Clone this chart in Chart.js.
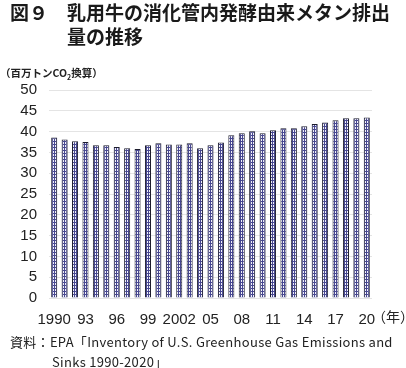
<!DOCTYPE html>
<html>
<head>
  <meta charset="utf-8">
  <title>乳用牛の消化管内発酵由来メタン排出量の推移</title>
  <script src="https://cdn.jsdelivr.net/npm/chart.js"></script>
  <style>
    body {
        margin: 0;
        background: #fff;
        font-family: "Noto Sans CJK JP", sans-serif;
        color: #222;
    }
    .wrap {
        position: relative;
        width: 406px;
        height: 368px;
        overflow: hidden;
    }
    #chart {
        position: absolute;
        left: 0;
        top: 0;
    }
    .txt {
        position: absolute;
        white-space: nowrap;
    }
    .title {
        font-size: 19px;
        font-weight: bold;
        line-height: 24px;
        color: #1a1a1a;
    }
    .unit {
        left: 0;
        top: 65px;
        font-size: 10.5px;
        font-weight: bold;
    }
    .src {
        font-size: 13px;
        line-height: 20px;
        letter-spacing: 0.3px;
    }
  </style>
</head>
<body>
  <div class="wrap">
    <canvas id="chart" width="406" height="368"></canvas>
    <div class="txt title" style="left:10px; top:0px;">図９</div>
    <div class="txt title" style="left:67px; top:0px;">乳用牛の消化管内発酵由来メタン排出<br>量の推移</div>
    <div class="txt unit">（百万トンCO<sub style="font-size:7px">2</sub>換算）</div>
    <div class="txt" style="left:372px; top:306px; font-size:14px;">（年）</div>
    <div class="txt src" style="left:10px; top:332px;">資料：EPA「Inventory of U.S. Greenhouse Gas Emissions and</div>
    <div class="txt src" style="left:52px; top:352px;">Sinks 1990-2020」</div>
  </div>

  <script>
    // データ（単位：百万トンCO2換算）
    const years = [];
    for (let y = 1990; y <= 2020; y++) years.push(String(y));
    const emissions = [
      38.6, 38.1, 37.7, 37.5, 36.7, 36.7, 36.3, 36.0, 35.8, 36.7,
      37.2, 36.9, 36.9, 37.2, 36.0, 36.7, 37.4, 39.1, 39.6, 40.1,
      39.6, 40.3, 40.8, 40.8, 41.3, 41.8, 42.2, 42.7, 43.2, 43.2,
      43.4
    ];
    const xTickLabels = ['1990', '93', '96', '99', '2002', '05', '08', '11', '14', '17', '20'];
    const yTicks = [0, 5, 10, 15, 20, 25, 30, 35, 40, 45, 50];

    // 格子模様
    const tile = document.createElement('canvas');
    tile.width = 2;
    tile.height = 3;
    const tc = tile.getContext('2d');
    tc.fillStyle = '#f2f2fa';
    tc.fillRect(0, 0, 2, 3);
    tc.fillStyle = '#474790';
    tc.fillRect(0, 0, 1, 3);
    tc.fillRect(0, 0, 2, 1);

    const ctx = document.getElementById('chart').getContext('2d');
    const pattern = ctx.createPattern(tile, 'repeat');

    const tickFont = { family: '"Liberation Sans", Arial, sans-serif', size: 15 };

    new Chart(ctx, {
      type: 'bar',
      data: {
        labels: years,
        datasets: [{
          data: emissions,
          backgroundColor: pattern,
          borderColor: '#1c1c2c',
          borderWidth: 1,
          barPercentage: 0.58,
          categoryPercentage: 1
        }]
      },
      options: {
        responsive: false,
        animation: false,
        layout: { padding: { top: 90, right: 34, left: 0, bottom: 0 } },
        plugins: {
          legend: { display: false },
          tooltip: { enabled: false }
        },
        scales: {
          x: {
            grid: { display: false },
            border: { display: false },
            ticks: {
              autoSkip: false,
              maxRotation: 0,
              padding: 5,
              color: '#222',
              font: tickFont,
              callback: (v, i) => (i % 3 === 0 ? xTickLabels[i / 3] : '')
            },
            afterFit: s => { s.height = 70; }
          },
          y: {
            min: 0,
            max: 50,
            afterBuildTicks: s => { s.ticks = yTicks.map(v => ({ value: v })); },
            grid: { color: '#e4e4e4', drawTicks: false },
            border: { display: false },
            ticks: { autoSkip: false, padding: 12, color: '#222', font: tickFont },
            afterFit: s => { s.width = 49; }
          }
        }
      }
    });
  </script>
</body>
</html>
